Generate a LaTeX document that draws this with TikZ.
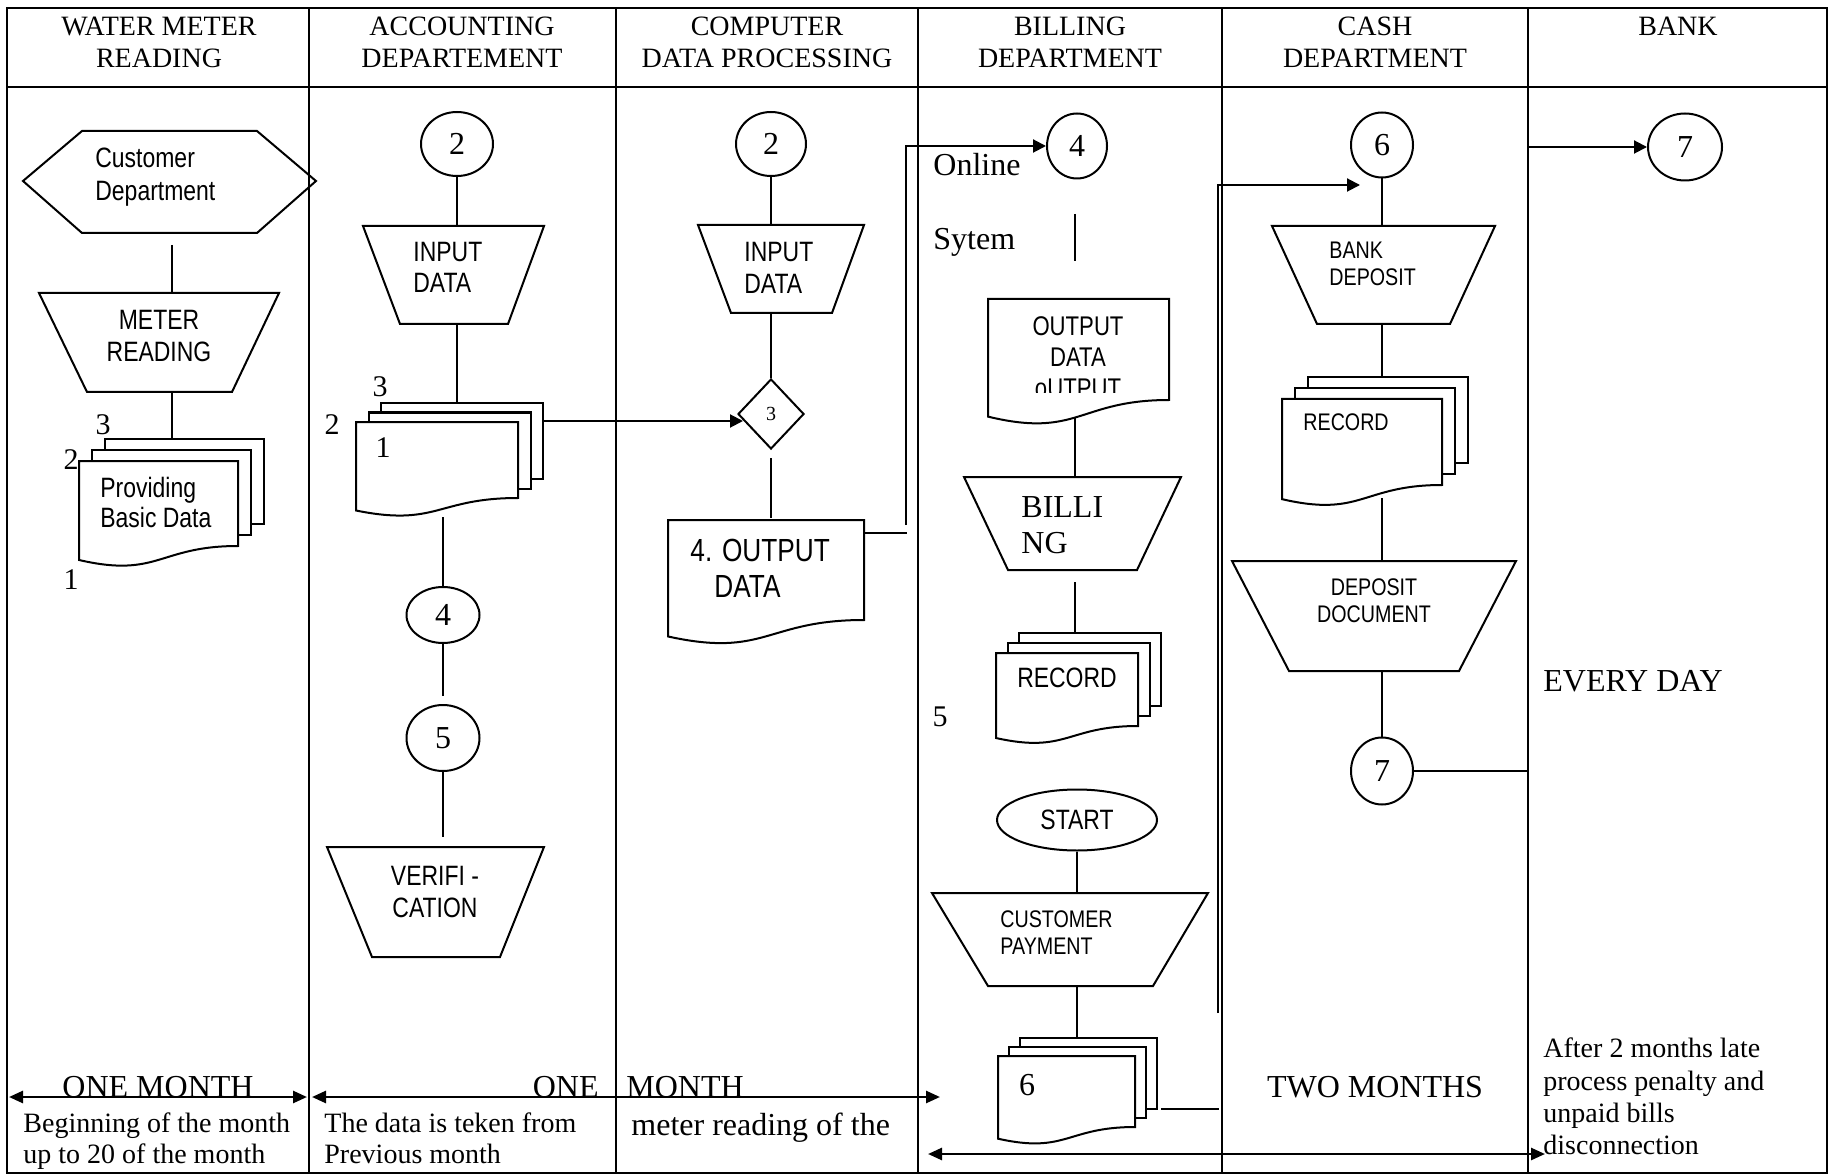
\documentclass[tikz,border=0pt]{standalone}
\usepackage{fontspec}
\setmainfont{Liberation Serif}
\newfontfamily\nsans[FakeStretch=0.82]{Liberation Sans}
\usetikzlibrary{arrows.meta,shapes.geometric}

% trapezoid: ytop, xtl, xtr, ybot, xbl, xbr
\newcommand\mytrap[6]{%
  \draw[shp] (#2,#1) -- (#3,#1) -- (#6,#4) -- (#5,#4) -- cycle;}
% single document: x y w h
\newcommand\mysdoc[4]{%
  \draw[docshp] (#1,#2) -- ({#1+#3},#2) -- ({#1+#3},{#2+#4})
     .. controls ({#1+#3/2},{#2+#4}) and ({#1+#3/2},{#2+1.381*#4}) .. (#1,{#2+1.1646*#4}) -- cycle;}
% multi document: x y w h dx dy
\newcommand\mymdoc[6]{%
  \draw[docshp] ({#1+2*#5},{#2-2*#6}) rectangle ++(#3,#4);
  \draw[docshp] ({#1+#5},{#2-#6}) rectangle ++(#3,#4);
  \mysdoc{#1}{#2}{#3}{#4}}

\begin{document}
\begin{tikzpicture}[x=0.5pt,y=-0.5pt,
  grid/.style={line width=1.3pt},
  shp/.style={line width=1pt},
  docshp/.style={line width=1pt,fill=white},
  conn/.style={line width=1pt},
  arr/.style={line width=1pt,-{Triangle[length=6.5pt,width=6.5pt]}},
  darr/.style={line width=1.3pt,{Triangle[length=7pt,width=6pt]}-{Triangle[length=7pt,width=6pt]}},
  cnode/.style={ellipse,draw,line width=1pt,fill=white,inner sep=0pt,font=\fontsize{16}{19}\selectfont},
  hdr/.style={anchor=base,inner sep=0pt,font=\fontsize{14}{17}\selectfont},
  sr/.style={anchor=base west,inner sep=0pt,font=\fontsize{14}{17}\selectfont},
  srL/.style={anchor=base west,inner sep=0pt,font=\fontsize{16}{19}\selectfont},
  lab/.style={inner sep=0pt,font=\fontsize{15}{18}\selectfont},
  sn/.style={anchor=base west,inner sep=0pt,font=\nsans\fontsize{14}{17}\selectfont},
  snc/.style={anchor=base,inner sep=0pt,font=\nsans\fontsize{14}{17}\selectfont},
  snS/.style={anchor=base west,inner sep=0pt,font=\nsans\fontsize{12}{14}\selectfont},
  snSc/.style={anchor=base,inner sep=0pt,font=\nsans\fontsize{12}{14}\selectfont},
  snL/.style={anchor=base west,inner sep=0pt,font=\nsans\fontsize{16}{19}\selectfont},
  snM/.style={anchor=base,inner sep=0pt,font=\nsans\fontsize{13.5}{16}\selectfont}]
\path[use as bounding box,fill=white] (0,0) rectangle (1830,1176);

% ---------------- grid ----------------
\draw[grid] (7,8) rectangle (1827,1173);
\draw[grid] (7,87) -- (1827,87);
\foreach \xx in {309,616,918,1222,1528} \draw[grid] (\xx,8) -- (\xx,1173);

% ---------------- headers ----------------
\node[hdr] (h1a) at (159,35.5) {WATER METER};
\node[hdr] (h1b) at (159,68) {READING};
\node[hdr] (h2a) at (462,35.5) {ACCOUNTING};
\node[hdr] (h2b) at (462,68) {DEPARTEMENT};
\node[hdr] (h3a) at (767,35.5) {COMPUTER};
\node[hdr] (h3b) at (767,68) {DATA PROCESSING};
\node[hdr] (h4a) at (1070,35.5) {BILLING};
\node[hdr] (h4b) at (1070,68) {DEPARTMENT};
\node[hdr] (h5a) at (1375,35.5) {CASH};
\node[hdr] (h5b) at (1375,68) {DEPARTMENT};
\node[hdr] (h6a) at (1678,35.5) {BANK};

% ---------------- column 1 ----------------
\draw[shp] (23,181) -- (82,131) -- (257,131) -- (316,181) -- (257,233) -- (82,233) -- cycle;
\node[sn] (cust1) at (95,168) {Customer};
\node[sn] (cust2) at (95,201) {Department};
\coordinate (w1a) at (172,245); \coordinate (w1b) at (172,293);
\draw[conn] (w1a) -- (w1b);
\mytrap{293}{39}{279}{392}{87}{232}
\node[snc] (mr1) at (159,330) {METER};
\node[snc] (mr2) at (159,362) {READING};
\coordinate (w1c) at (172,392); \coordinate (w1d) at (172,439);
\draw[conn] (w1c) -- (w1d);
\mymdoc{79}{461}{159}{85}{13}{11}
\node[sn] (pb1) at (100,497) {Providing};
\node[sn] (pb2) at (100,527) {Basic Data};
\node[lab] (l13) at (103,425) {3};
\node[lab] (l12) at (71,460) {2};
\node[lab] (l11) at (71,580) {1};

% ---------------- column 2 ----------------
\node[cnode,minimum width=36pt,minimum height=32pt] (a2) at (457,144) {2};
\coordinate (a2t) at (457,226);
\draw[conn] (a2.south) -- (a2t);
\mytrap{226}{363}{544}{324}{400}{508}
\node[sn] (ai1) at (413,262) {INPUT};
\node[sn] (ai2) at (413,293) {DATA};
\coordinate (a2u) at (457,324); \coordinate (a2v) at (457,403);
\draw[conn] (a2u) -- (a2v);
\mymdoc{356}{422}{162}{76}{12.5}{9.5}
\node[lab] (l23) at (380,387) {3};
\node[lab] (l22) at (332,425) {2};
\node[lab] (l21) at (383,448) {1};
\coordinate (a2w) at (443,517);
\node[cnode,minimum width=36.5pt,minimum height=28pt] (a4) at (443,615) {4};
\draw[conn] (a2w) -- (a4.north);
\coordinate (a4b) at (443,696);
\draw[conn] (a4.south) -- (a4b);
\node[cnode,minimum width=36.5pt,minimum height=33pt] (a5) at (443,738) {5};
\coordinate (a5b) at (443,837);
\draw[conn] (a5.south) -- (a5b);
\mytrap{847}{327}{544}{957}{372}{500}
\node[snc] (av1) at (435,885) {VERIFI -};
\node[snc] (av2) at (435,917) {CATION};

% ---------------- column 3 ----------------
\node[cnode,minimum width=35pt,minimum height=32pt] (p2) at (771,144) {2};
\coordinate (p2t) at (771,225);
\draw[conn] (p2.south) -- (p2t);
\mytrap{225}{698}{864}{313}{731}{832}
\node[sn] (pi1) at (744,262) {INPUT};
\node[sn] (pi2) at (744,294) {DATA};
\node[diamond,draw,line width=1pt,fill=white,inner sep=0pt,minimum width=33pt,minimum height=35pt,
      font=\fontsize{10}{12}\selectfont] (d3) at (771,414) {3};
\coordinate (p2u) at (771,313);
\draw[conn] (p2u) -- (d3.north);
\coordinate (a2x) at (543,421); \coordinate (d3in) at (743,421);
\draw[arr] (a2x) -- (d3in);
\coordinate (p3a) at (771,458); \coordinate (p3b) at (771,518);
\draw[conn] (p3a) -- (p3b);
\mysdoc{668}{520}{196}{100}
\node[snL] (po1) at (690,561.5) {4. OUTPUT};
\node[snL] (po2) at (714,597) {DATA};
\coordinate (p4a) at (864,533); \coordinate (p4b) at (907,533);
\draw[conn] (p4a) -- (p4b);

% ---------------- column 4 ----------------
\node[cnode,minimum width=30pt,minimum height=32.5pt] (b4) at (1077,146) {4};
\coordinate (p5a) at (906,525); \coordinate (p5b) at (906,146);
\draw[arr] (p5a) -- (p5b) -- (b4.west);
\node[srL] (onl) at (933,176) {Online};
\node[srL] (syt) at (933,250) {Sytem};
\coordinate (b4a) at (1075,214); \coordinate (b4b) at (1075,261);
\draw[conn] (b4a) -- (b4b);
\mysdoc{988}{299}{181}{101}
\node[snM] (bo1) at (1078,336) {OUTPUT};
\node[snM] (bo2) at (1078,367) {DATA};
\begin{scope}
\clip (988,370) rectangle (1169,393);
\node[snM] (bo3) at (1078,398) {oUTPUT};
\end{scope}
\coordinate (b4c) at (1075,418); \coordinate (b4d) at (1075,477);
\draw[conn] (b4c) -- (b4d);
\mytrap{477}{964}{1181}{570}{1008}{1137}
\node[srL] (bl1) at (1021,517) {BILLI};
\node[srL] (bl2) at (1021,553) {NG};
\coordinate (b4e) at (1075,582); \coordinate (b4f) at (1075,633);
\draw[conn] (b4e) -- (b4f);
\mymdoc{996}{653}{142}{73}{11.5}{10}
\node[snc] (brec) at (1067,687) {RECORD};
\node[lab] (l5) at (940,717) {5};
\node[ellipse,draw,line width=1pt,inner sep=0pt,minimum width=80pt,minimum height=30.5pt,
      font=\nsans\fontsize{14}{17}\selectfont] (start) at (1077,820) {START};
\coordinate (b4g) at (1077,893);
\draw[conn] (start.south) -- (b4g);
\mytrap{893}{932}{1208}{986}{988}{1153}
\node[snS] (cp1) at (1000,927) {CUSTOMER};
\node[snS] (cp2) at (1000,954) {PAYMENT};
\coordinate (b4h) at (1077,986); \coordinate (b4i) at (1077,1038);
\draw[conn] (b4h) -- (b4i);
\mymdoc{998}{1056}{137}{71}{11}{9}
\node[srL,anchor=center] (l6) at (1027,1085) {6};
\coordinate (b6a) at (1161,1109); \coordinate (b6b) at (1219,1109);
\draw[conn] (b6a) -- (b6b);

% ---------------- column 5 ----------------
\node[cnode,minimum width=31pt,minimum height=32.5pt] (s6) at (1382,145) {6};
\coordinate (b6c) at (1218,1013); \coordinate (b6d) at (1218,185); \coordinate (s6in) at (1360,185);
\draw[arr] (b6c) -- (b6d) -- (s6in);
\coordinate (s6a) at (1382,226);
\draw[conn] (s6.south) -- (s6a);
\mytrap{226}{1272}{1495}{324}{1317}{1450}
\node[snS] (bd1) at (1329,259) {BANK};
\node[snS] (bd2) at (1329,286) {DEPOSIT};
\coordinate (s6b) at (1382,324); \coordinate (s6c) at (1382,377);
\draw[conn] (s6b) -- (s6c);
\mymdoc{1282}{399}{160}{86}{13}{11}
\node[snS] (srec) at (1303,430) {RECORD};
\coordinate (s6d) at (1382,498); \coordinate (s6e) at (1382,561);
\draw[conn] (s6d) -- (s6e);
\mytrap{561}{1232}{1516}{671}{1289}{1459}
\node[snSc] (dd1) at (1374,595) {DEPOSIT};
\node[snSc] (dd2) at (1374,622) {DOCUMENT};
\node[cnode,minimum width=31pt,minimum height=33.5pt] (s7) at (1382,771) {7};
\coordinate (s6f) at (1382,671);
\draw[conn] (s6f) -- (s7.north);

% ---------------- column 6 ----------------
\node[cnode,minimum width=37pt,minimum height=33.5pt] (k7) at (1685,147) {7};
\coordinate (k7a) at (1528,771); \coordinate (k7b) at (1528,147);
\draw[arr] (s7.east) -- (k7a) -- (k7b) -- (k7.west);
\node[srL] (evd) at (1543,691) {EVERY DAY};

% ---------------- bottom row ----------------
\coordinate (ba1) at (9,1097); \coordinate (ba2) at (307,1097);
\coordinate (ba3) at (312,1097); \coordinate (ba4) at (940,1097);
\coordinate (ba5) at (928,1154); \coordinate (ba6) at (1545,1154);
\draw[darr] (ba1) -- (ba2);
\draw[darr] (ba3) -- (ba4);
\draw[darr] (ba5) -- (ba6);
\node[srL,anchor=base] (om1) at (158,1097) {ONE MONTH};
\node[srL,anchor=base east] (om2) at (599,1097) {ONE};
\node[srL] (om3) at (626,1097) {MONTH};
\node[srL,anchor=base] (tm) at (1375,1097) {TWO MONTHS};
\node[sr] (t1a) at (23,1132) {Beginning of the month};
\node[sr] (t1b) at (23,1163) {up to 20 of the month};
\node[sr] (t2a) at (324,1132) {The data is teken from};
\node[sr] (t2b) at (324,1163) {Previous month};
\node[srL] (t3a) at (631,1135) {meter reading of the};
\node[sr] (t6a) at (1543,1057) {After 2 months late};
\node[sr] (t6b) at (1543,1090) {process penalty and};
\node[sr] (t6c) at (1543,1122) {unpaid bills};
\node[sr] (t6d) at (1543,1154) {disconnection};
\end{tikzpicture}
\end{document}
